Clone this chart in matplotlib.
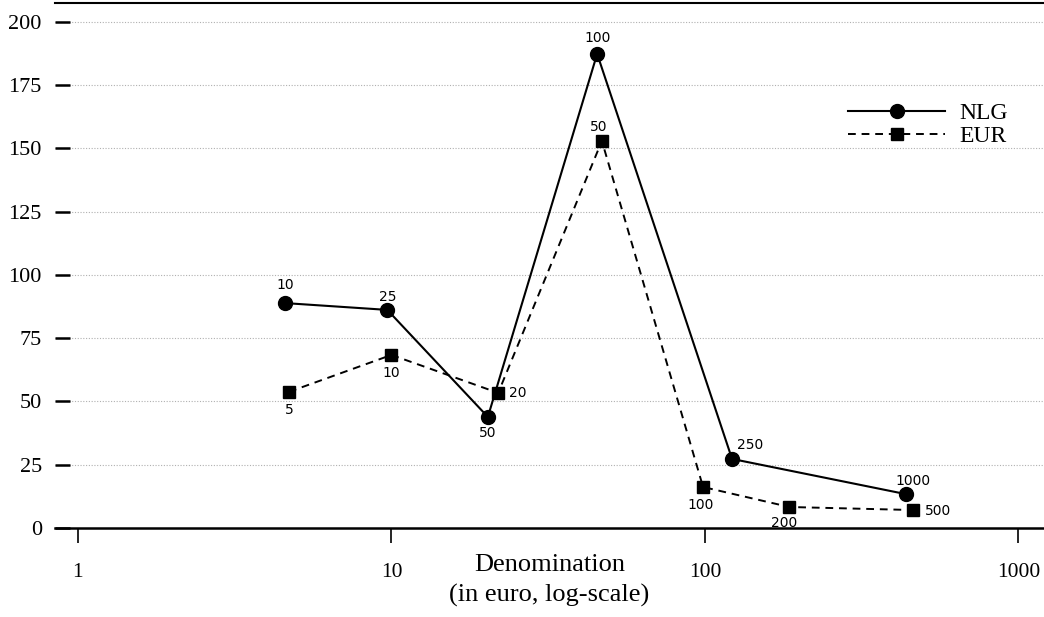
import matplotlib
matplotlib.use("Agg")
import matplotlib.pyplot as plt
from matplotlib.ticker import FixedLocator, NullLocator

# values (x in euro, y in count)
nlg_x = [4.57, 9.7, 20.3, 45.3, 122, 437]
nlg_y = [88.9, 86.2, 43.9, 187.4, 27.3, 13.4]
nlg_labels = ["10", "25", "50", "100", "250", "1000"]

eur_x = [4.71, 10.0, 21.9, 46.9, 98.6, 186, 461]
eur_y = [53.8, 68.4, 53.4, 153.0, 16.2, 8.3, 7.1]
eur_labels = ["5", "10", "20", "50", "100", "200", "500"]

xticks = [1, 10, 100, 1000]
yticks = [0, 25, 50, 75, 100, 125, 150, 175, 200]

# label offsets in points (dx, dy) from each marker
nlg_off = [(0, 13), (0, 9.5), (0, -11.5), (0, 11.5), (13, 10), (5, 9.5)]
eur_off = [(0, -13), (0, -13), (14, 0), (-2, 10), (-2, -13), (-4, -11.5), (18, -0.5)]

serif = "Liberation Serif"

fig = plt.figure(figsize=(10.44, 6.17), dpi=100)
ax = fig.add_axes([55 / 1044, 1 - 528 / 617, 1 - 55 / 1044, (528 - 3) / 617])

ax.plot(nlg_x, nlg_y, color="black", lw=1.5, marker="o", ms=10, label="NLG")
ax.plot(eur_x, eur_y, color="black", lw=1.4, ls=(0, (4, 3)), marker="s",
        ms=8.5, label="EUR")

for x, y, t, (dx, dy) in zip(nlg_x, nlg_y, nlg_labels, nlg_off):
    ax.annotate(t, (x, y), xytext=(dx, dy), textcoords="offset points",
                ha="center", va="center", fontsize=10, family="DejaVu Sans")
for x, y, t, (dx, dy) in zip(eur_x, eur_y, eur_labels, eur_off):
    ax.annotate(t, (x, y), xytext=(dx, dy), textcoords="offset points",
                ha="center", va="center", fontsize=10, family="DejaVu Sans")

ax.set_xscale("log")
ax.set_xlim(0.845, 1206)
ax.set_ylim(0, 207.5)

ax.xaxis.set_major_locator(FixedLocator(xticks))
ax.xaxis.set_minor_locator(NullLocator())
ax.set_xticklabels([str(v) for v in xticks], family=serif, fontsize=15.5)
ax.set_yticks(yticks)
ax.set_yticklabels([str(v) for v in yticks], family=serif, fontsize=16)

ax.tick_params(axis="x", direction="out", length=11, width=1.2, pad=14)
ax.tick_params(axis="y", direction="in", length=11, width=1.8, pad=9.5)

for v in yticks[1:]:
    ax.axhline(v, color="#b0b0b0", lw=0.8, ls=(0, (1, 1.5)), zorder=0)

ax.spines["left"].set_visible(False)
ax.spines["right"].set_visible(False)
ax.spines["bottom"].set_linewidth(1.8)
ax.spines["top"].set_linewidth(1.5)

ax.set_xlabel("Denomination\n(in euro, log-scale)", family=serif, fontsize=19,
              labelpad=-20, linespacing=1.45)

leg = ax.legend(loc="center left", bbox_to_anchor=(0.802, 0.768), frameon=False,
                prop={"family": serif, "size": 17}, handlelength=4.1,
                handletextpad=0.63, labelspacing=0.05, borderpad=0,
                borderaxespad=0)

fig.savefig("out.png", dpi=100)
